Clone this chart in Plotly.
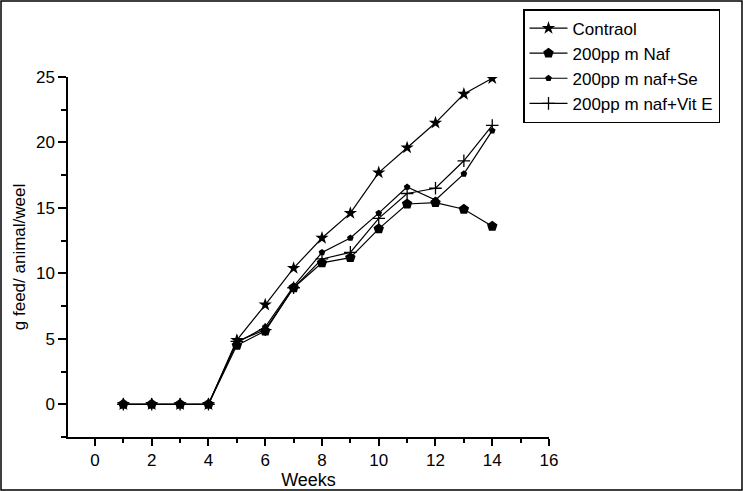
import plotly.graph_objects as go

weeks = list(range(1, 15))
control = [0, 0, 0, 0, 4.9, 7.6, 10.4, 12.7, 14.6, 17.7, 19.6, 21.5, 23.7, 24.9]
naf = [0, 0, 0, 0, 4.5, 5.6, 8.9, 10.8, 11.2, 13.4, 15.3, 15.4, 14.9, 13.6]
naf_se = [0, 0, 0, 0, 4.7, 5.9, 9.0, 11.6, 12.7, 14.6, 16.6, 15.6, 17.6, 20.9]
naf_vite = [0, 0, 0, 0, 4.8, 5.7, 8.9, 11.1, 11.6, 14.2, 16.1, 16.5, 18.6, 21.3]

names = ["Contraol", "200pp m Naf", "200pp m naf+Se", "200pp m naf+Vit E"]
x_ticks = list(range(0, 17, 2))
y_ticks = list(range(0, 26, 5))

FONT = "Liberation Sans, Arial, sans-serif"

fig = go.Figure()
styles = [
    dict(symbol="star", size=10, color="black"),
    dict(symbol="pentagon", size=11, color="black"),
    dict(symbol="pentagon", size=7, color="black"),
    dict(symbol="cross-thin-open", size=9, color="black", line=dict(width=1.3, color="black")),
]
for name, ys, st in zip(names, [control, naf, naf_se, naf_vite], styles):
    fig.add_trace(go.Scatter(x=weeks, y=ys, name=name, mode="lines+markers",
                             line=dict(color="black", width=1.2), marker=st))

fig.update_layout(
    width=743, height=491,
    margin=dict(l=68, r=194, t=77, b=54, autoexpand=False),
    plot_bgcolor="white", paper_bgcolor="white",
    font=dict(family=FONT, color="black", size=17),
    legend=dict(xref="container", yref="container", x=523 / 743, y=1 - 9 / 491,
                xanchor="left", yanchor="top", itemwidth=38,
                bordercolor="black", borderwidth=1.5, bgcolor="white",
                font=dict(size=17, family=FONT), tracegroupgap=0),
    showlegend=True,
)
fig.update_xaxes(range=[-0.95, 16], tickvals=x_ticks, showline=True, linecolor="black",
                 linewidth=1.5, ticks="outside", ticklen=7, tickwidth=1.5, tickcolor="black",
                 showgrid=False, zeroline=False, automargin=False,
                 minor=dict(tickvals=list(range(1, 16, 2)), ticks="outside", ticklen=4,
                            tickwidth=1.5, tickcolor="black"),
                 title=dict(text="Weeks", font=dict(size=18), standoff=2),
                 tickfont=dict(size=17))
fig.update_yaxes(range=[-2.5, 25], tickvals=y_ticks, showline=True, linecolor="black",
                 linewidth=1.5, ticks="outside", ticklen=8, tickwidth=1.5, tickcolor="black",
                 showgrid=False, zeroline=False, automargin=False,
                 minor=dict(tickvals=[-2.5, 2.5, 7.5, 12.5, 17.5, 22.5], ticks="outside", ticklen=5,
                            tickwidth=1.5, tickcolor="black"),
                 title=dict(text="g feed/ animal/weel", font=dict(size=17), standoff=6),
                 tickfont=dict(size=17))

# outer frame of the figure
fig.add_shape(type="rect", xref="paper", yref="paper",
              x0=(1 - 68) / 481, x1=(742 - 68) / 481,
              y0=(437 - 490) / 360, y1=(437 - 1) / 360,
              line=dict(color="black", width=1.5), layer="below")

fig.write_html("out.html", config={"displayModeBar": False},
               post_script="document.body.style.margin='0';")
